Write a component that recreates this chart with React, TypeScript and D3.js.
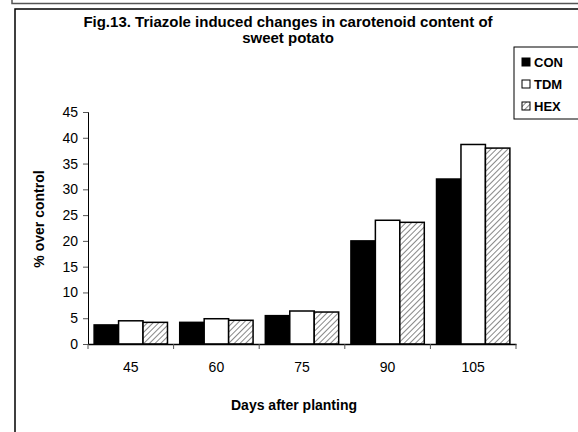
import React, { useRef, useEffect } from 'react';
import * as d3 from 'd3';

const days = ['45', '60', '75', '90', '105'];
const series = ['CON', 'TDM', 'HEX'];
const conValues = [3.7, 4.2, 5.5, 20.0, 32.0];
const tdmValues = [4.5, 4.9, 6.4, 24.0, 38.7];
const hexValues = [4.2, 4.6, 6.2, 23.6, 38.0];
const yTicks = [0, 5, 10, 15, 20, 25, 30, 35, 40, 45];

const App: React.FC = () => {
  const ref = useRef<SVGSVGElement | null>(null);

  useEffect(() => {
    if (!ref.current) return;
    const svg = d3.select(ref.current);
    svg.selectAll('*').remove();

    const font = 'Arial, "Liberation Sans", sans-serif';
    const values = [conValues, tdmValues, hexValues];

    const defs = svg.append('defs');
    const pat = defs
      .append('pattern')
      .attr('id', 'hatch')
      .attr('patternUnits', 'userSpaceOnUse')
      .attr('width', 4)
      .attr('height', 4)
      .attr('patternTransform', 'rotate(45)');
    pat.append('rect').attr('width', 4).attr('height', 4).attr('fill', '#fff');
    pat.append('line').attr('x1', 0).attr('y1', 0).attr('x2', 0).attr('y2', 4)
      .attr('stroke', '#888').attr('stroke-width', 2);

    const fills = ['#000', '#fff', 'url(#hatch)'];

    // outer frames
    svg.append('path').attr('d', 'M12,0 V3.5 H600').attr('fill', 'none')
      .attr('stroke', '#555').attr('stroke-width', 1.5);
    svg.append('rect').attr('x', 15).attr('y', 9).attr('width', 600).attr('height', 440)
      .attr('fill', '#fff').attr('stroke', '#000').attr('stroke-width', 1.5);

    const left = 88, right = 516, top = 112, bottom = 344;

    const x = d3.scaleBand().domain(days).range([left, right]);
    const xInner = d3.scaleBand().domain(series).range([0, x.bandwidth()]).paddingOuter(0.25);
    const y = d3.scaleLinear().domain([0, 45]).range([bottom, top]);

    // title
    const title = svg.append('text').attr('text-anchor', 'middle')
      .attr('font-family', font).attr('font-weight', 'bold').attr('font-size', 15);
    title.append('tspan').attr('x', 288).attr('y', 27).text('Fig.13. Triazole induced changes in carotenoid content of');
    title.append('tspan').attr('x', 288).attr('y', 43).text('sweet potato');

    // bars
    days.forEach((d, i) => {
      series.forEach((s, j) => {
        const v = values[j][i];
        svg.append('rect')
          .attr('x', (x(d) as number) + (xInner(s) as number))
          .attr('y', y(v))
          .attr('width', xInner.bandwidth())
          .attr('height', bottom - y(v))
          .attr('fill', fills[j])
          .attr('stroke', '#000')
          .attr('stroke-width', 1.5);
      });
    });

    // y axis
    const yAxis = svg.append('g').attr('transform', `translate(${left},0)`)
      .call(d3.axisLeft(y).tickValues(yTicks).tickSize(5).tickPadding(5));
    yAxis.select('.domain').attr('stroke', '#000');
    yAxis.selectAll('.tick line').attr('stroke', '#555');
    yAxis.selectAll('text').attr('font-family', font).attr('font-size', 14).attr('fill', '#000');

    // x axis
    const xAxis = svg.append('g').attr('transform', `translate(0,${bottom})`)
      .call(d3.axisBottom(x).tickSize(0).tickPadding(18));
    xAxis.select('.domain').attr('stroke', '#000').attr('stroke-width', 1.5);
    xAxis.selectAll('text').attr('font-family', font).attr('font-size', 14).attr('fill', '#000');
    const bounds = days.map((d) => x(d) as number).concat([right]);
    svg.append('g').selectAll('line').data(bounds).enter().append('line')
      .attr('x1', (d) => d).attr('x2', (d) => d)
      .attr('y1', bottom).attr('y2', bottom + 5)
      .attr('stroke', '#555');

    // axis labels
    svg.append('text').attr('transform', `translate(44,${(top + bottom) / 2 - 9}) rotate(-90)`)
      .attr('text-anchor', 'middle').attr('font-family', font).attr('font-weight', 'bold')
      .attr('font-size', 14).text('% over control');
    svg.append('text').attr('x', 294).attr('y', 410).attr('text-anchor', 'middle')
      .attr('font-family', font).attr('font-weight', 'bold').attr('font-size', 14)
      .text('Days after planting');

    // legend
    const lg = svg.append('g');
    lg.append('rect').attr('x', 514).attr('y', 47).attr('width', 80).attr('height', 72)
      .attr('fill', '#fff').attr('stroke', '#000').attr('stroke-width', 1);
    series.forEach((s, j) => {
      const cy = 62 + j * 22;
      lg.append('rect').attr('x', 522).attr('y', cy - 4).attr('width', 8).attr('height', 8)
        .attr('fill', fills[j]).attr('stroke', '#000').attr('stroke-width', 1);
      lg.append('text').attr('x', 534).attr('y', cy + 5).attr('font-family', font)
        .attr('font-weight', 'bold').attr('font-size', 13).text(s);
    });
  }, []);

  return (
    <svg ref={ref} width={578} height={432}
      style={{ position: 'absolute', left: 0, top: 0, background: '#fff' }} />
  );
};

export default App;
